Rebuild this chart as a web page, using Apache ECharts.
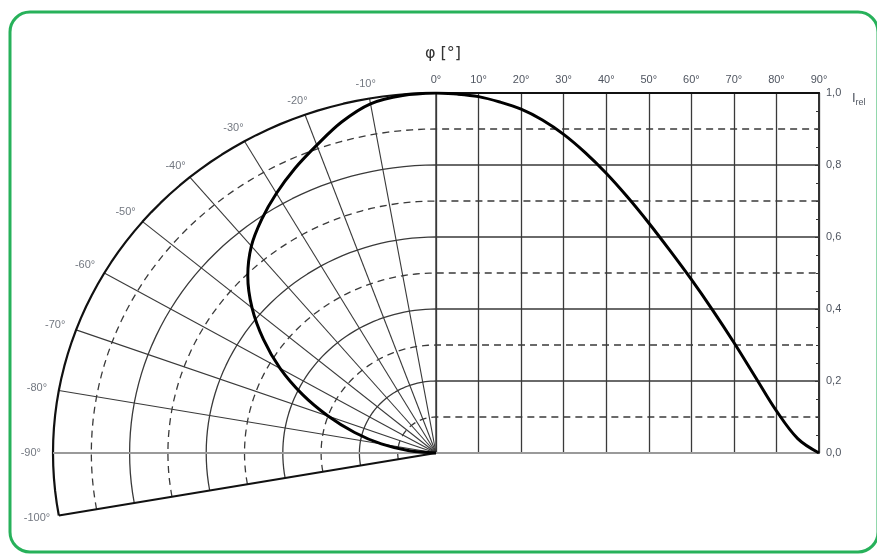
<!DOCTYPE html>
<html lang="en">
<head>
    <meta charset="UTF-8">
    <title>I_rel</title>
    <style>
        html, body { margin: 0; padding: 0; background: #fff; }
        #chart { width: 877px; height: 554px; }
    </style>
    <script src="https://cdn.jsdelivr.net/npm/echarts@6/dist/echarts.min.js"></script>
</head>
<body>
<div id="chart"></div>
<script type="text/javascript">

    // cartesian part: I_rel against phi (0..90 deg)
    var phiDeg = [0, 5, 10, 15, 20, 25, 30, 35, 40, 45, 50, 55, 60, 65, 70, 75, 80, 85, 90];
    var relCart = [1.0, 0.997, 0.99, 0.975, 0.955, 0.925, 0.885, 0.835, 0.777, 0.711, 0.639, 0.562, 0.482, 0.397, 0.307, 0.212, 0.117, 0.04, 0.0];

    // polar part: I_rel against phi (0..-90 deg)
    var polarDeg = [0, -5, -10, -15, -20, -25, -30, -35, -40, -45, -50, -55, -60, -65, -70, -75, -80, -85, -90];
    var relPolar = [1.0, 0.997, 0.985, 0.952, 0.91, 0.872, 0.833, 0.793, 0.75, 0.695, 0.627, 0.55, 0.47, 0.385, 0.30, 0.22, 0.145, 0.07, 0.0];

    // grid
    var levels = [0.1, 0.2, 0.3, 0.4, 0.5, 0.6, 0.7, 0.8, 0.9, 1.0];
    var spokeDeg = [0, -10, -20, -30, -40, -50, -60, -70, -80, -90, -100];

    var GRID_C = '#3a3a3a', LABEL_C = '#4f5560';

    // polar -> shared x/y of the overlay grid (x in degrees-wide units)
    function pt(deg, r, ry) {
        var a = deg * Math.PI / 180;
        return [90 * r * Math.sin(a), (ry || r) * Math.cos(a)];
    }

    function seg(points, color, width, type, z) {
        return {
            type: 'line', xAxisIndex: 1, yAxisIndex: 1,
            data: points, symbol: 'none', silent: true, animation: false,
            lineStyle: {color: color, width: width, type: type || 'solid'},
            z: z || 2
        };
    }

    var series = [];

    // rings, continued as horizontal lines on the right
    for (var i = 0; i < levels.length; i++) {
        var r = levels[i], pts = [];
        for (var d = -100; d <= 0; d += 2) pts.push(pt(d, r));
        pts.push([90, r]);
        var odd = Math.round(r * 10) % 2 === 1;
        if (r === 1) series.push(seg(pts, '#111', 2.2, 'solid', 3));
        else series.push(seg(pts, GRID_C, 1.3, odd ? [7, 5] : 'solid'));
    }

    // spokes
    for (var j = 0; j < spokeDeg.length; j++) {
        var sd = spokeDeg[j];
        if (sd === -90) series.push(seg([[-90, 0], [90, 0]], '#9a9a9a', 2.2, 'solid', 3));
        else if (sd === -100) series.push(seg([[0, 0], pt(sd, 1)], '#111', 2.2, 'solid', 3));
        else series.push(seg([[0, 0], pt(sd, 1)], GRID_C, sd === 0 ? 1.4 : 1.1, 'solid'));
    }

    // polar labels
    series.push({
        type: 'scatter', xAxisIndex: 1, yAxisIndex: 1, silent: true, animation: false,
        symbolSize: 0, clip: false,
        data: spokeDeg.slice(1).map(function (d) {
            return {value: pt(d, 1.058, 1.042), name: d + '°'};
        }),
        label: {
            show: true, position: 'inside', formatter: '{b}',
            color: LABEL_C, fontSize: 11, fontFamily: 'Liberation Sans'
        },
        labelLayout: {hideOverlap: false}
    });

    // polar curve
    series.push({
        type: 'line', xAxisIndex: 1, yAxisIndex: 1, silent: true, animation: false,
        symbol: 'none', smooth: 0.35, z: 5,
        data: polarDeg.map(function (d, k) { return pt(d, relPolar[k]); }),
        lineStyle: {color: '#000', width: 3}
    });

    // cartesian curve
    series.push({
        type: 'line', xAxisIndex: 0, yAxisIndex: 0, silent: true, animation: false,
        symbol: 'none', smooth: 0.35, z: 5,
        data: phiDeg.map(function (p, k) { return [p, relCart[k]]; }),
        lineStyle: {color: '#000', width: 3}
    });

    var option = {
        animation: false,
        title: {
            text: 'φ [°]', left: 438, top: 41, textAlign: 'center',
            textStyle: {fontSize: 16, fontWeight: 'normal', color: '#333', fontFamily: 'DejaVu Sans'}
        },
        grid: [
            {left: 436, right: 58, top: 93, bottom: 101},
            {left: 53, right: 58, top: 93, bottom: 29}
        ],
        xAxis: [{
            type: 'value', gridIndex: 0, position: 'top', min: 0, max: 90, interval: 10,
            axisLine: {onZero: false, lineStyle: {color: '#111', width: 2.2}},
            axisTick: {show: false},
            axisLabel: {formatter: '{value}°', color: LABEL_C, fontSize: 11, margin: 8, fontFamily: 'Liberation Sans'},
            splitLine: {show: true, lineStyle: {color: GRID_C, width: 1.3}}
        }, {
            type: 'value', gridIndex: 1, min: -90, max: 90, show: false
        }],
        yAxis: [{
            type: 'value', gridIndex: 0, position: 'right', min: 0, max: 1, interval: 0.2,
            axisLine: {show: true, onZero: false, lineStyle: {color: '#333', width: 2}},
            axisTick: {show: true, inside: true, length: 4, lineStyle: {color: '#333'}},
            minorTick: {show: true, splitNumber: 4, length: 3, lineStyle: {color: '#333'}},
            axisLabel: {
                color: LABEL_C, fontSize: 11, margin: 7, fontFamily: 'Liberation Sans',
                formatter: function (v) { return v.toFixed(1).replace('.', ','); }
            },
            splitLine: {show: false}
        }, {
            type: 'value', gridIndex: 1, min: -0.2, max: 1, show: false
        }],
        graphic: [{
            type: 'rect', silent: true,
            shape: {x: 10, y: 12, width: 868, height: 540, r: 20},
            style: {fill: 'none', stroke: '#27b15a', lineWidth: 3}
        }, {
            type: 'text', left: 852, top: 92, silent: true,
            style: {
                text: '{i|I}{s|rel}',
                rich: {
                    i: {fontSize: 13, fill: LABEL_C, fontFamily: 'Liberation Sans'},
                    s: {fontSize: 9, fill: LABEL_C, fontFamily: 'Liberation Sans', padding: [8, 0, 0, 0]}
                }
            }
        }],
        series: series
    };

    var myChart = echarts.init(document.getElementById('chart'));
    myChart.setOption(option);
</script>
</body>
</html>
